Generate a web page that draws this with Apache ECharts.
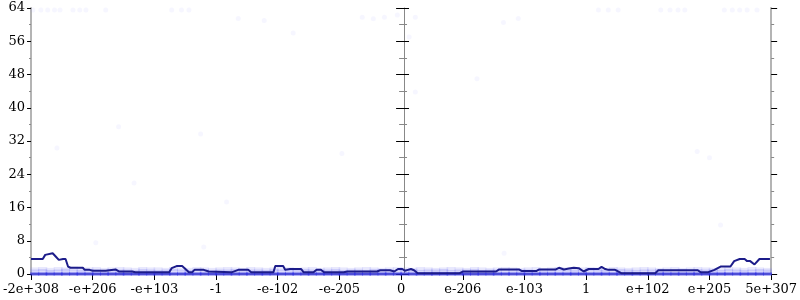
<!DOCTYPE html>
<html><head><meta charset="utf-8">
<script src="https://cdn.jsdelivr.net/npm/echarts@6/dist/echarts.min.js"></script>
<style>html,body{margin:0;padding:0;background:#fff}#c{width:800px;height:300px}</style>
</head><body><div id="c"></div>
<script>
// x tick labels (positions -6..6 on the x scale)
var xLabels = ['-2e+308','-e+206','-e+103','-1','-e-102','-e-205','0','e-206','e-103','1','e+102','e+205','5e+307'];
var yTicks = [0,8,16,24,32,40,48,56,64];

// dark line (running level)
var lineX = [-6.0,-5.81,-5.77,-5.74,-5.65,-5.60,-5.55,-5.48,-5.44,-5.40,-5.36,-5.16,-5.13,-5.05,-5.00,-4.79,-4.76,-4.63,-4.57,-4.36,-4.31,-3.76,-3.72,-3.64,-3.55,-3.51,-3.44,-3.39,-3.35,-3.20,-3.12,-2.75,-2.64,-2.48,-2.43,-2.07,-2.04,-1.91,-1.88,-1.80,-1.62,-1.58,-1.42,-1.37,-1.30,-1.25,-0.93,-0.87,-0.39,-0.34,-0.18,-0.11,-0.05,0.02,0.06,0.11,0.16,0.21,0.27,0.95,1.00,1.54,1.59,1.91,1.96,2.19,2.24,2.51,2.56,2.64,2.72,2.80,2.88,2.96,3.04,3.20,3.25,3.31,3.36,3.47,3.57,4.12,4.17,4.81,4.86,4.97,5.08,5.18,5.34,5.40,5.49,5.57,5.61,5.66,5.73,5.81,5.98];
var lineY = [3.6,3.6,4.6,5.0,5.0,4.2,3.4,3.6,3.6,1.8,1.5,1.5,1.0,1.0,0.8,0.8,1.1,1.1,0.6,0.6,0.4,0.4,1.4,1.9,1.9,1.4,0.4,0.4,1.0,1.0,0.6,0.4,1.0,1.0,0.4,0.4,1.9,1.9,1.0,1.2,1.2,0.4,0.4,1.0,1.0,0.4,0.4,0.6,0.6,0.9,0.9,0.6,1.2,1.2,0.8,1.0,1.2,0.9,0.2,0.2,0.6,0.6,1.1,1.1,0.7,0.7,1.1,1.1,1.5,1.1,1.3,1.5,1.4,0.6,1.2,1.2,1.7,1.2,1.0,1.0,0.2,0.2,0.9,0.9,0.4,0.4,1.0,1.8,1.8,3.1,3.6,3.6,3.1,3.1,2.3,3.6,3.6];

// dense band of points near zero
var bandX = [-5.94,-5.81,-5.69,-5.56,-5.44,-5.31,-5.19,-5.06,-4.94,-4.81,-4.69,-4.56,-4.44,-4.31,-4.19,-4.06,-3.94,-3.81,-3.69,-3.56,-3.44,-3.31,-3.19,-3.06,-2.94,-2.81,-2.69,-2.56,-2.44,-2.31,-2.19,-2.06,-1.94,-1.81,-1.69,-1.56,-1.44,-1.31,-1.19,-1.06,-0.94,-0.81,-0.69,-0.56,-0.44,-0.31,-0.19,-0.06,0.06,0.19,0.31,0.44,0.56,0.69,0.81,0.94,1.06,1.19,1.31,1.44,1.56,1.69,1.81,1.94,2.06,2.19,2.31,2.44,2.56,2.69,2.81,2.94,3.06,3.19,3.31,3.44,3.56,3.69,3.81,3.94,4.06,4.19,4.31,4.44,4.56,4.69,4.81,4.94,5.06,5.19,5.31,5.44,5.56,5.69,5.81,5.94];
var bandY1 = [0.6,0.7,0.5,0.6,0.8,0.6,0.5,0.7,0.6,0.5,0.7,0.6,0.6,0.5,0.7,0.6,0.5,0.6,0.7,0.6,0.5,0.6,0.7,0.5,0.6,0.6,0.7,0.5,0.6,0.6,0.5,0.7,0.6,0.5,0.6,0.7,0.6,0.5,0.6,0.7,0.5,0.6,0.6,0.5,0.7,0.6,0.6,0.5,0.6,0.7,0.5,0.6,0.6,0.7,0.5,0.6,0.6,0.7,0.5,0.6,0.6,0.5,0.7,0.6,0.6,0.5,0.6,0.7,0.5,0.6,0.6,0.5,0.7,0.6,0.5,0.6,0.7,0.6,0.5,0.6,0.6,0.7,0.5,0.6,0.6,0.5,0.7,0.6,0.6,0.5,0.7,0.6,0.5,0.6,0.7,0.6];
var bandY2 = [1.1,1.2,1.0,1.2,1.1,1.3,1.0,1.1,1.2,1.0,1.1,1.2,1.1,1.0,1.2,1.1,1.1,1.0,1.2,1.1,1.0,1.2,1.1,1.0,1.1,1.2,1.1,1.0,1.2,1.1,1.0,1.1,1.2,1.1,1.0,1.1,1.2,1.0,1.1,1.2,1.1,1.0,1.1,1.2,1.1,1.0,1.1,1.2,1.1,1.0,1.2,1.1,1.0,1.1,1.2,1.1,1.0,1.2,1.1,1.0,1.1,1.2,1.1,1.0,1.1,1.2,1.0,1.1,1.2,1.1,1.0,1.1,1.2,1.1,1.0,1.2,1.1,1.0,1.1,1.2,1.1,1.0,1.1,1.2,1.0,1.1,1.2,1.1,1.0,1.1,1.2,1.1,1.0,1.2,1.1,1.0];
var zeroY = [0,0,0,0,0,0,0,0,0,0,0,0,0,0,0,0,0,0,0,0,0,0,0,0,0,0,0,0,0,0,0,0,0,0,0,0,0,0,0,0,0,0,0,0,0,0,0,0,0,0,0,0,0,0,0,0,0,0,0,0,0,0,0,0,0,0,0,0,0,0,0,0,0,0,0,0,0,0,0,0,0,0,0,0,0,0,0,0,0,0,0,0,0,0,0,0];

// sparse faint points
var sparseX = [-5.58,-4.58,-4.33,-3.25,-4.95,-2.83,-3.20,1.67,5.18,-0.63,-0.45,-0.27,-0.06,0.23,0.13,0.23,-2.64,-2.22,-1.75,1.66,1.9,-0.96,1.23,4.8,5.0,
  -5.97,-5.84,-5.73,-5.62,-5.53,-5.32,-5.21,-5.11,-4.79,-3.72,-3.56,-3.44,3.20,3.36,3.52,4.21,4.36,4.49,4.60,5.24,5.37,5.49,5.61,5.77];
var sparseY = [30.3,35.4,21.9,33.7,7.5,17.3,6.5,5.0,11.8,61.8,61.4,61.8,62.3,61.8,57.0,43.8,61.5,61.0,58.0,60.5,61.5,29.0,47.0,29.5,28.0,
  63.5,63.5,63.5,63.5,63.5,63.5,63.5,63.5,63.5,63.5,63.5,63.5,63.5,63.5,63.5,63.5,63.5,63.5,63.5,63.5,63.5,63.5,63.5,63.5];

function zip(a,b){var r=[];for(var i=0;i<a.length;i++)r.push([a[i],b[i]]);return r;}

var FONT = 'DejaVu Serif';
function yAx(opt){
  var base = {type:'value',min:0,max:64,interval:8,splitLine:{show:false},
    axisLabel:{show:false},axisLine:{show:false},
    minorTick:{show:true,splitNumber:2,length:2,lineStyle:{color:'#888',width:1}},
    axisTick:{show:true,length:5,lineStyle:{color:'#000',width:1}}};
  for (var k in opt) base[k]=opt[k];
  return base;
}

var chart = echarts.init(document.getElementById('c'), null, {renderer:'canvas'});
chart.setOption({
  animation:false,
  grid:{left:28,right:27,top:8,bottom:26,containLabel:false},
  xAxis:[
    {type:'value',min:-6,max:6,interval:1,position:'bottom',splitLine:{show:false},
     axisLine:{show:false},
     axisTick:{show:true,length:6,lineStyle:{color:'#000',width:1}},
     axisLabel:{show:true,margin:9,fontFamily:FONT,fontSize:13,color:'#000',
       formatter:function(v){return xLabels[Math.round(v)+6];}}},
    {type:'value',min:-6,max:6,interval:1,position:'top',splitLine:{show:false},
     axisLine:{show:true,lineStyle:{color:'#aaa',width:2}},axisTick:{show:false},axisLabel:{show:false}}
  ],
  yAxis:[
    yAx({position:'left',axisLine:{show:true,onZero:false,lineStyle:{color:'#b4b4b4',width:2}},
      axisTick:{show:true,length:4,lineStyle:{color:'#000',width:1}},
      axisLabel:{show:true,margin:6,fontFamily:FONT,fontSize:13,color:'#000',
        formatter:function(v){return yTicks.indexOf(v)>=0?String(v):'';}}}),
    yAx({position:'left',axisTick:{show:true,inside:true,length:6,lineStyle:{color:'#000',width:1}},
      minorTick:{show:true,splitNumber:2,length:3,lineStyle:{color:'#888',width:1}}}),
    yAx({position:'right',axisLine:{show:true,onZero:false,lineStyle:{color:'#b4b4b4',width:2}},
      axisTick:{show:true,length:6,lineStyle:{color:'#000',width:1}},
      minorTick:{show:true,splitNumber:2,length:3,lineStyle:{color:'#888',width:1}}}),
    yAx({position:'right',axisTick:{show:true,inside:true,length:5,lineStyle:{color:'#000',width:1}},
      minorTick:{show:true,splitNumber:2,length:2,lineStyle:{color:'#888',width:1}}}),
    yAx({position:'left',offset:-373,axisLine:{show:true,onZero:false,lineStyle:{color:'#888',width:1}},
      axisTick:{show:true,length:5,lineStyle:{color:'#000',width:1}},
      minorTick:{show:true,splitNumber:2,length:3,lineStyle:{color:'#888',width:1}}}),
    yAx({position:'left',offset:-373,axisTick:{show:true,inside:true,length:5,lineStyle:{color:'#000',width:1}},
      minorTick:{show:true,splitNumber:2,length:3,lineStyle:{color:'#888',width:1}}})
  ],
  series:[
    {type:'scatter',data:zip(sparseX,sparseY),symbol:'circle',symbolSize:5,
     itemStyle:{color:'rgba(160,160,255,0.12)'},silent:true,z:1},
    {type:'scatter',data:zip(bandX,bandY2),symbol:'rect',symbolSize:[9,4],
     itemStyle:{color:'rgba(140,140,245,0.25)'},silent:true,z:1},
    {type:'scatter',data:zip(bandX,bandY1),symbol:'rect',symbolSize:[9,4],
     itemStyle:{color:'rgba(120,120,240,0.32)'},silent:true,z:1},
    {type:'scatter',data:zip(bandX,zeroY),symbol:'rect',symbolSize:[9,3],
     itemStyle:{color:'rgba(45,45,230,0.9)'},silent:true,z:1},
    {type:'line',data:zip(lineX,lineY),showSymbol:false,symbol:'none',
     lineStyle:{color:'#1c1c8a',width:2},z:3,silent:true}
  ]
});
</script></body></html>
